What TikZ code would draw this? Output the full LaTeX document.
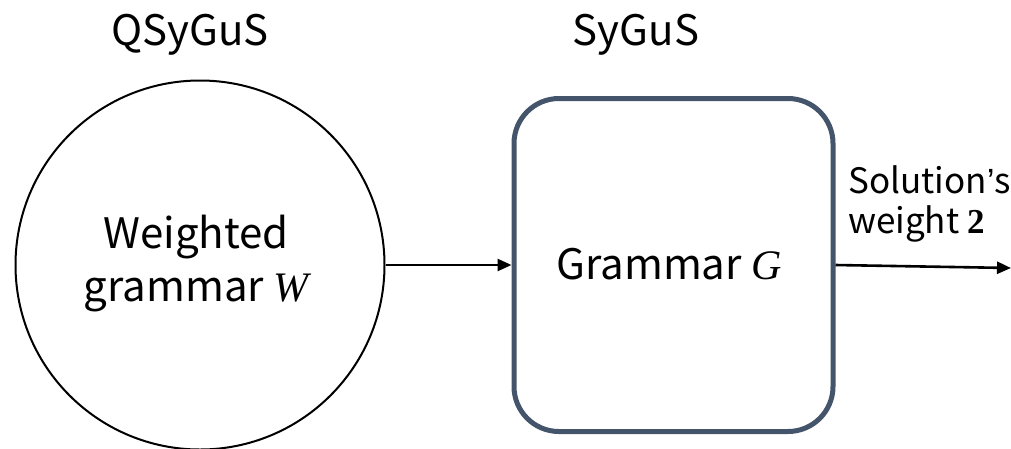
\documentclass[tikz,border=0pt]{standalone}
\usepackage{fontspec}
\setmainfont{Noto Sans CJK SC}
\newfontfamily\varfont{Liberation Serif}
\newfontfamily\quotefont{Liberation Sans}
\usetikzlibrary{arrows.meta}
\definecolor{boxline}{HTML}{44546A}
\newcommand{\var}[1]{{\varfont\itshape #1}}
\tikzset{
  flow/.style={line width=2.6pt, -{Triangle[length=14pt,width=12pt]}},
  heading/.style={font=\fontsize{42}{48}\selectfont, inner sep=0pt},
  inner/.style={font=\fontsize{42}{53}\selectfont, align=center, inner sep=0pt},
}
\begin{document}
\begin{tikzpicture}[x=1pt,y=-1pt]
  \useasboundingbox (0,0) rectangle (1011,448);
  % headings
  \node[heading] (qhead) at (190,35) {QSyGuS};
  \node[heading] (shead) at (636,35) {SyGuS};
  % weighted grammar (circle) and plain grammar (rounded box)
  \node[circle, draw, line width=2pt, minimum size=369pt, inner sep=0pt] (wg) at (200,265) {};
  \node[inner] (wgtext) at (196,264) {Weighted\\grammar \var{W}};
  \node[draw=boxline, line width=5pt, rounded corners=45pt, minimum width=319pt, minimum height=333pt, inner sep=0pt] (g) at (673.5,265) {};
  \node[inner] (gtext) at (669,264) {Grammar \var{G}};
  % output
  \coordinate (out) at (1011,268);
  \node[font=\fontsize{35}{40}\selectfont, align=left, anchor=south west, inner sep=0pt] (sol) at (848,242) {Solution{\quotefont ’}s\\weight {\varfont\bfseries 2}};
  % connectors
  \draw[flow] (wg.east) -- (g.west);
  \draw[flow] (g.east) -- (out);
\end{tikzpicture}
\end{document}
